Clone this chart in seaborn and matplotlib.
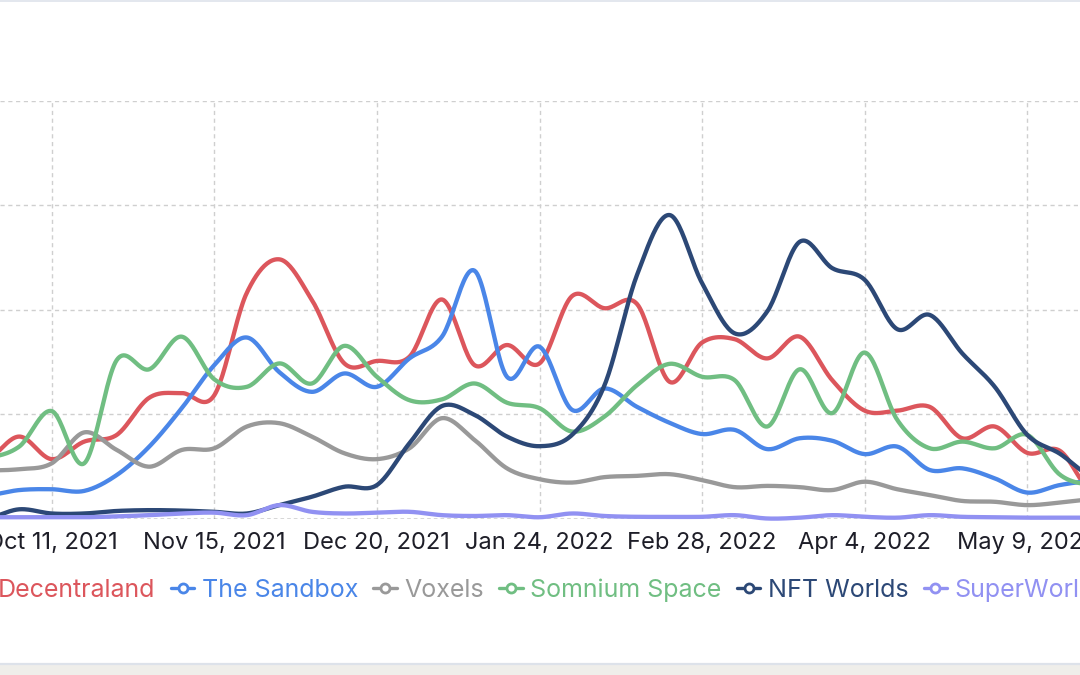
import numpy as np
import pandas as pd
import matplotlib
matplotlib.use("Agg")
import matplotlib.pyplot as plt
import matplotlib.dates as mdates
from matplotlib.lines import Line2D
from matplotlib.patches import Rectangle
import seaborn as sns

# ---------------- data (weekly values) ----------------
dates = pd.date_range("2021-09-27", "2022-05-23", freq="7D")

decentraland = [14, 19.6, 14.2, 18.4, 20, 28.9, 30, 29.5, 54, 62, 52.3, 37.1, 37.7, 38.7,
                52.4, 36.7, 41.5, 37.1, 53.2, 50.3, 51.3, 32.7, 42.1, 42.9, 38.3, 43.5,
                33.1, 25.8, 25.8, 26.7, 19.2, 22, 15.7, 16.2, 6]
sandbox = [5.5, 6.8, 7, 6.6, 10.4, 17.2, 26.4, 36.7, 43.3, 35, 30.3, 34.7, 31.5, 38.3,
           43.5, 59.3, 33.9, 41.1, 26, 31.1, 26.7, 22.9, 20.2, 21.2, 16.6, 19.2, 18.6,
           15.4, 17.2, 11.6, 12, 9.6, 6.2, 8, 9]
voxels = [11.5, 11.8, 13.2, 20.6, 16.4, 12.4, 16.4, 16.8, 22, 22.8, 19.6, 15.6, 14.2, 16.8,
          24, 18.8, 12, 9.4, 8.6, 9.9, 10.2, 10.6, 9.2, 7.5, 7.8, 7.5, 6.8, 8.8, 7, 5.6,
          4.2, 4, 3.2, 3.8, 4.6]
somnium = [14.5, 17.2, 25.7, 13.2, 37.9, 35.7, 43.5, 33.3, 31.5, 37.1, 32.3, 41.3, 33.9,
           28.3, 28.5, 32.3, 27.7, 26.4, 20.8, 24.4, 31.9, 37, 33.9, 33.1, 22, 35.7, 25.2,
           39.7, 23.6, 16.8, 18.4, 16.8, 20, 10.5, 8]
nft_worlds = [0, 2.2, 1.2, 1.2, 1.8, 2, 1.9, 1.6, 1.2, 3.2, 5.2, 7.6, 8, 18, 26.9, 24.8,
              19.6, 17.3, 20, 31.9, 58.3, 72.6, 56.3, 44.3, 49.5, 66.2, 59.9, 57.1, 45.3,
              48.7, 39.5, 31.5, 20, 15.5, 10]
superworld = [0.3, 0.3, 0.3, 0.3, 0.5, 0.8, 1.2, 1.4, 0.8, 3.2, 1.6, 1.2, 1.4, 1.6, 0.8,
              0.6, 0.8, 0.3, 1.2, 0.6, 0.4, 0.4, 0.4, 0.8, 0, 0.2, 0.8, 0.4, 0.2, 0.8, 0.4,
              0.3, 0.2, 0.2, 0.2]

series_names = ["Decentraland", "The Sandbox", "Voxels", "Somnium Space", "NFT Worlds", "SuperWorld"]
series_values = [decentraland, sandbox, voxels, somnium, nft_worlds, superworld]
colors = ["#dc565c", "#4a86e8", "#999999", "#70be82", "#2c4876", "#9191f2"]

tick_dates = pd.to_datetime(["2021-10-11", "2021-11-15", "2021-12-20", "2022-01-24",
                             "2022-02-28", "2022-04-04", "2022-05-09"])
tick_labels = ["Oct 11, 2021", "Nov 15, 2021", "Dec 20, 2021", "Jan 24, 2022",
               "Feb 28, 2022", "Apr 4, 2022", "May 9, 2022"]
y_grid = [0, 25, 50, 75, 100]


# ------------- smooth rendering of the weekly series (Catmull-Rom) -------------
def smooth(xs, ys, n=24):
    xs = np.asarray(xs, float)
    ys = np.asarray(ys, float)
    px = np.concatenate([[2 * xs[0] - xs[1]], xs, [2 * xs[-1] - xs[-2]]])
    py = np.concatenate([[ys[0]], ys, [ys[-1]]])
    ox, oy = [], []
    t = np.linspace(0, 1, n, endpoint=False)
    for i in range(1, len(px) - 2):
        for arr, out in ((px, ox), (py, oy)):
            p0, p1, p2, p3 = arr[i - 1], arr[i], arr[i + 1], arr[i + 2]
            out.extend(0.5 * ((2 * p1) + (-p0 + p2) * t + (2 * p0 - 5 * p1 + 4 * p2 - p3) * t ** 2
                              + (-p0 + 3 * p1 - 3 * p2 + p3) * t ** 3))
    ox.append(xs[-1])
    oy.append(ys[-1])
    return np.array(ox), np.array(oy)


xnum = mdates.date2num(dates)
frames = []
for name, vals in zip(series_names, series_values):
    sx, sy = smooth(xnum, vals)
    frames.append(pd.DataFrame({"date": mdates.num2date(sx), "value": sy, "series": name}))
df = pd.concat(frames, ignore_index=True)
df["date"] = pd.to_datetime(df["date"]).dt.tz_localize(None)

# ---------------- figure ----------------
plt.rcParams["lines.scale_dashes"] = False
sns.set_style("white")
plt.rcParams["font.family"] = ["Inter", "DejaVu Sans"]

W, H = 1080, 675
fig = plt.figure(figsize=(W / 100, H / 100), dpi=100)
fig.patch.set_facecolor("white")

# card background / borders
fig.add_artist(Rectangle((0, 0), 1, 1 - 663 / H, transform=fig.transFigure,
                         facecolor="#efeeea", edgecolor="none", zorder=-10))
fig.add_artist(Line2D([0, 1], [1 - 663.5 / H] * 2, transform=fig.transFigure,
                      color="#dde2ea", lw=1.6, zorder=-9))
fig.add_artist(Line2D([0, 1], [1 - 0.8 / H] * 2, transform=fig.transFigure,
                      color="#e3e7ee", lw=1.4, zorder=-9))

# axes geometry in pixels
x_px0, px_per_day = 51.7, 162.6 / 35
y0_px, y100_px = 518.5, 100.5
ax = fig.add_axes([0, 1 - y0_px / H, 1, (y0_px - y100_px) / H])
ax.set_facecolor("none")

ref = mdates.date2num(pd.Timestamp("2021-10-11"))
ax.set_xlim(ref - x_px0 / px_per_day, ref + (W - x_px0) / px_per_day)
ax.set_ylim(0, 100)

sns.lineplot(data=df, x="date", y="value", hue="series", hue_order=series_names,
             palette=colors, linewidth=3.1, legend=False, ax=ax, sort=False,
             estimator=None)
for ln in ax.get_lines():
    ln.set_solid_capstyle("round")
    ln.set_solid_joinstyle("round")
    ln.set_clip_on(False)

ax.set_xlim(ref - x_px0 / px_per_day, ref + (W - x_px0) / px_per_day)
ax.set_ylim(0, 100)

# grid
for v in y_grid[1:]:
    ax.axhline(v, color="#cfcfcf", lw=1.0, ls=(0, (3.0, 2.6)), zorder=0)
ax.axhline(0, color="#333333", lw=1.0, ls=(0, (2.6, 2.2)), zorder=0.5)
for d in tick_dates:
    ax.axvline(d, ymin=0, ymax=1, color="#cfcfcf", lw=1.0, ls=(0, (3.0, 2.6)), zorder=0)

for s in ax.spines.values():
    s.set_visible(False)
ax.set_xticks(tick_dates)
ax.set_xticklabels(tick_labels)
ax.set_yticks([])
ax.tick_params(axis="x", direction="out", length=5.5, width=1.0, color="#222222",
               labelsize=17, labelcolor="#1e1e28", pad=4.5)
ax.set_xlabel("")
ax.set_ylabel("")

# legend
handles = [Line2D([], [], color=c, lw=2.4, marker="o", markersize=6.5,
                  markerfacecolor="white", markeredgewidth=2.0, markeredgecolor=c)
           for c in colors]
leg = fig.legend(handles, series_names, loc="center", ncol=6, frameon=False,
                 bbox_to_anchor=(531 / W, 1 - 590 / H), fontsize=18,
                 handlelength=0.95, handletextpad=0.3, columnspacing=0.6)
for txt, c in zip(leg.get_texts(), colors):
    txt.set_color(c)

fig.savefig("out.png", dpi=100, facecolor=fig.get_facecolor())
